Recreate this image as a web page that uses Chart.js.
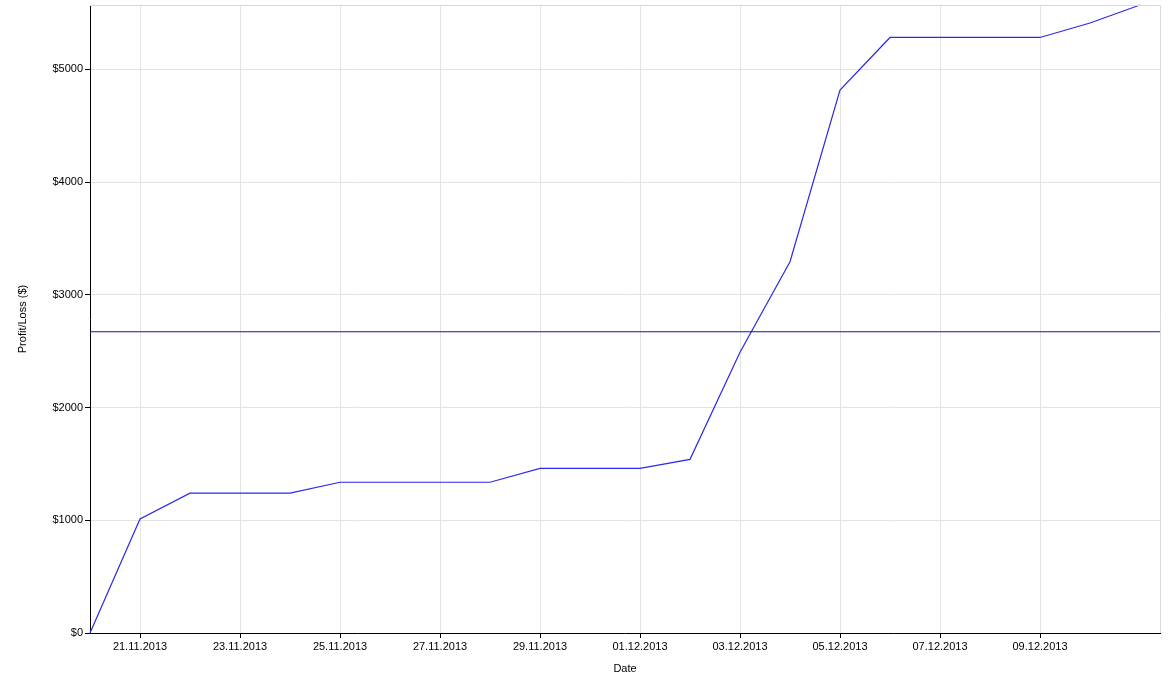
<!DOCTYPE html>
<html>
<head>
<meta charset="utf-8">
<script src="https://cdn.jsdelivr.net/npm/chart.js@4"></script>
<style>
  html, body { margin: 0; padding: 0; background: #fff; }
  #wrap { width: 1174px; height: 680px; }
</style>
</head>
<body>
<div id="wrap"><canvas id="plChart" width="1174" height="680"></canvas></div>
<script>
// daily dates and cumulative profit/loss
const dates = ['20.11.2013', '21.11.2013', '22.11.2013', '23.11.2013', '24.11.2013', '25.11.2013',
    '26.11.2013', '27.11.2013', '28.11.2013', '29.11.2013', '30.11.2013', '01.12.2013',
    '02.12.2013', '03.12.2013', '04.12.2013', '05.12.2013', '06.12.2013', '07.12.2013',
    '08.12.2013', '09.12.2013', '10.12.2013', '11.12.2013'];
const profit = [0, 1012, 1240, 1240, 1240, 1337, 1337, 1337, 1337, 1460, 1460, 1460,
    1540, 2490, 3293, 4815, 5282, 5282, 5282, 5282, 5410, 5570];
const meanProfit = 2672;
const tickDates = ['21.11.2013', '23.11.2013', '25.11.2013', '27.11.2013', '29.11.2013',
    '01.12.2013', '03.12.2013', '05.12.2013', '07.12.2013', '09.12.2013'];
const yTicks = [0, 1000, 2000, 3000, 4000, 5000];

const font = { family: 'Liberation Sans, Arial, sans-serif', size: 11 };

// mean line + light frame on top/right
const extras = {
    id: 'extras',
    afterDatasetsDraw(chart) {
        const { ctx, chartArea: a, scales } = chart;
        ctx.save();
        ctx.strokeStyle = '#d9d9d9';
        ctx.lineWidth = 1;
        ctx.beginPath();
        ctx.moveTo(a.left, a.top + 0.5);
        ctx.lineTo(a.right + 0.5, a.top + 0.5);
        ctx.lineTo(a.right + 0.5, a.bottom);
        ctx.stroke();
        const y = scales.y.getPixelForValue(meanProfit);
        ctx.strokeStyle = '#1010b0';
        ctx.lineWidth = 1.2;
        ctx.beginPath();
        ctx.moveTo(a.left, y);
        ctx.lineTo(a.right, y);
        ctx.stroke();
        ctx.restore();
    }
};

new Chart(document.getElementById('plChart'), {
    type: 'line',
    data: {
        datasets: [{
            label: 'Profit/Loss',
            data: profit.map((v, i) => ({ x: i, y: v })),
            borderColor: '#2a2ae6',
            borderWidth: 1.2,
            pointRadius: 0,
            tension: 0,
            clip: false
        }]
    },
    options: {
        responsive: false,
        animation: false,
        layout: { padding: { top: 5, right: 14, left: 2, bottom: 0 } },
        plugins: { legend: { display: false }, tooltip: { enabled: false } },
        scales: {
            x: {
                type: 'linear',
                min: 0,
                max: 21.4,
                afterBuildTicks: s => { s.ticks = tickDates.map(d => ({ value: dates.indexOf(d) })); },
                afterFit: s => { s.height = 47; },
                ticks: {
                    callback: v => dates[v],
                    color: '#000',
                    font: font,
                    maxRotation: 0,
                    autoSkip: false,
                    padding: 2
                },
                grid: { color: '#e3e3e3', tickColor: '#000', tickLength: 5 },
                border: { color: '#000', width: 1 },
                title: { display: true, text: 'Date', color: '#000', font: font, padding: { top: 4 } }
            },
            y: {
                min: 0,
                max: Math.max(...profit),
                afterBuildTicks: s => { s.ticks = yTicks.map(v => ({ value: v })); },
                afterFit: s => { s.width = 88; s.paddingTop = 0; s.paddingBottom = 0; },
                ticks: {
                    callback: v => '$' + v,
                    color: '#000',
                    font: font,
                    padding: 2
                },
                grid: { color: '#e3e3e3', tickColor: '#000', tickLength: 5 },
                border: { color: '#000', width: 1 },
                title: { display: true, text: 'Profit/Loss ($)', color: '#000', font: font, padding: { bottom: 0, top: 14 } }
            }
        }
    },
    plugins: [extras]
});
</script>
</body>
</html>
